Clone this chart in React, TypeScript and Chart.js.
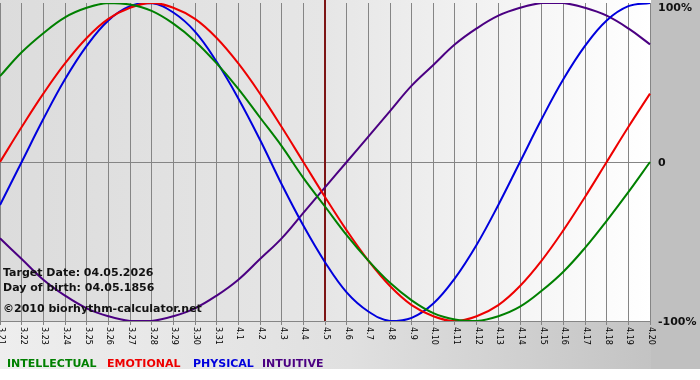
import { useEffect, useRef } from 'react';
import { Chart, registerables } from 'chart.js';

Chart.register(...registerables);

const dates = [
  '3.21', '3.22', '3.23', '3.24', '3.25', '3.26', '3.27', '3.28', '3.29', '3.30', '3.31',
  '4.1', '4.2', '4.3', '4.4', '4.5', '4.6', '4.7', '4.8', '4.9', '4.10',
  '4.11', '4.12', '4.13', '4.14', '4.15', '4.16', '4.17', '4.18', '4.19', '4.20',
];

const intellectual = [54, 69, 81, 91, 97, 100, 99, 95, 87, 76, 62, 46, 28, 10, -10, -28, -46, -62, -76, -87, -95, -99, -100, -97, -91, -81, -69, -54, -37, -19, 0];
const emotional = [0, 22, 43, 62, 78, 90, 97, 100, 97, 90, 78, 62, 43, 22, 0, -22, -43, -62, -78, -90, -97, -100, -97, -90, -78, -62, -43, -22, 0, 22, 43];
const physical = [-27, 0, 27, 52, 73, 89, 98, 100, 94, 82, 63, 40, 14, -14, -40, -63, -82, -94, -100, -98, -89, -73, -52, -27, 0, 27, 52, 73, 89, 98, 100];
const intuitive = [-48, -61, -74, -84, -92, -97, -100, -100, -97, -92, -84, -74, -61, -48, -32, -16, 0, 16, 32, 48, 61, 74, 84, 92, 97, 100, 100, 97, 92, 84, 74];

const seriesNames = ['INTELLECTUAL', 'EMOTIONAL', 'PHYSICAL', 'INTUITIVE'];
const seriesValues = [intellectual, emotional, physical, intuitive];
const seriesColors = ['#008000', '#ee0000', '#0000dd', '#4b0082'];

const targetDate = '4.5';
const yTickValues = [100, 0, -100];
const yTickLabels = ['100%', '0', '-100%'];
const infoLines = ['Target Date: 04.05.2026', 'Day of birth: 04.05.1856', '©2010 biorhythm-calculator.net'];

const BOLD = 'bold 11px "DejaVu Sans", Verdana, sans-serif';

const backgroundPlugin = {
  id: 'bgPlugin',
  beforeDraw(chart: any) {
    const { ctx, chartArea: a, width, height } = chart;
    ctx.save();
    ctx.fillStyle = '#ffffff';
    ctx.fillRect(0, 0, width, height);
    const g1 = ctx.createLinearGradient(0, 0, width, 0);
    g1.addColorStop(0, '#eeeeee');
    g1.addColorStop(0.5, '#e0e0e0');
    g1.addColorStop(0.92, '#c4c4c4');
    g1.addColorStop(1, '#c0c0c0');
    ctx.fillStyle = g1;
    ctx.fillRect(0, 0, width, 369);
    ctx.fillStyle = '#c0c0c0';
    ctx.fillRect(a.right + 1, 0, width - a.right - 1, 369);
    const g2 = ctx.createLinearGradient(a.left, 0, a.right, 0);
    g2.addColorStop(0, '#dcdcdc');
    g2.addColorStop(0.5, '#e6e6e6');
    g2.addColorStop(0.8, '#f5f5f5');
    g2.addColorStop(1, '#ffffff');
    ctx.fillStyle = g2;
    ctx.fillRect(a.left, 0, a.right - a.left + 1, a.bottom);
    ctx.restore();
  },
  beforeDatasetsDraw(chart: any) {
    const { ctx, chartArea: a, scales } = chart;
    const x = scales.x.getPixelForValue(dates.indexOf(targetDate));
    ctx.save();
    ctx.strokeStyle = '#7d1515';
    ctx.lineWidth = 2;
    ctx.beginPath();
    ctx.moveTo(x, 0);
    ctx.lineTo(x, a.bottom);
    ctx.stroke();
    ctx.restore();
  },
  afterDatasetsDraw(chart: any) {
    const { ctx } = chart;
    ctx.save();
    ctx.font = BOLD;
    ctx.fillStyle = '#111111';
    ctx.textAlign = 'left';
    ctx.textBaseline = 'alphabetic';
    const baselines = [276, 291, 312];
    infoLines.forEach((t, i) => ctx.fillText(t, 3, baselines[i]));
    ctx.restore();
  },
  afterDraw(chart: any) {
    const { ctx, chartArea: a, scales } = chart;
    ctx.save();
    ctx.font = '8px "DejaVu Sans", Verdana, sans-serif';
    ctx.fillStyle = '#000000';
    ctx.textAlign = 'left';
    ctx.textBaseline = 'middle';
    dates.forEach((d, i) => {
      const x = scales.x.getPixelForValue(i);
      ctx.save();
      ctx.translate(x + 1, a.bottom + 6);
      ctx.rotate(Math.PI / 2);
      ctx.fillText(d, 0, 0);
      ctx.restore();
    });
    ctx.font = BOLD;
    ctx.fillStyle = '#111111';
    ctx.textBaseline = 'middle';
    yTickValues.forEach((v, i) => {
      let y = scales.y.getPixelForValue(v);
      if (v === 100) y += 4;
      ctx.fillText(yTickLabels[i], 658, y + 1);
    });
    const starts = [7, 107, 193, 262];
    ctx.textBaseline = 'alphabetic';
    seriesNames.forEach((n, i) => {
      ctx.fillStyle = seriesColors[i];
      ctx.fillText(n, starts[i], 367);
    });
    ctx.restore();
  },
};

export default function App() {
  const ref = useRef<HTMLCanvasElement>(null);
  useEffect(() => {
    document.body.style.margin = '0';
    const canvas = ref.current;
    if (!canvas) return;
    const chart = new Chart(canvas, {
      type: 'line',
      data: {
        labels: dates,
        datasets: seriesNames.map((n, i) => ({
          label: n,
          data: seriesValues[i],
          borderColor: seriesColors[i],
          backgroundColor: seriesColors[i],
          borderWidth: 2,
          pointRadius: 0,
          fill: false,
          tension: 0.4,
        })),
      },
      options: {
        animation: false,
        responsive: false,
        devicePixelRatio: 1,
        layout: { padding: { left: 0, top: 3, right: 0, bottom: 0 } },
        plugins: { legend: { display: false }, tooltip: { enabled: false }, title: { display: false } },
        scales: {
          x: {
            type: 'category',
            position: 'bottom',
            offset: false,
            grid: { color: '#858585', lineWidth: 1, tickLength: 4, drawTicks: true },
            border: { color: '#858585' },
            ticks: { display: false, autoSkip: false },
            afterFit: (s: any) => { s.height = 59; },
          },
          y: {
            position: 'right',
            min: -100,
            max: 100,
            afterBuildTicks: (s: any) => { s.ticks = yTickValues.map((v) => ({ value: v })); },
            grid: {
              color: (c: any) => (c.tick && c.tick.value === 0 ? '#858585' : 'rgba(0,0,0,0)'),
              drawTicks: false,
            },
            border: { display: false },
            ticks: { display: false },
            afterFit: (s: any) => { s.width = 50; s.paddingTop = 0; s.paddingBottom = 0; },
          },
        },
      },
      plugins: [backgroundPlugin],
    });
    return () => chart.destroy();
  }, []);
  return (
    <div style={{ position: 'fixed', left: 0, top: 0, width: 700, height: 380 }}>
      <canvas ref={ref} width={700} height={380} style={{ display: 'block', width: 700, height: 380 }} />
    </div>
  );
}
